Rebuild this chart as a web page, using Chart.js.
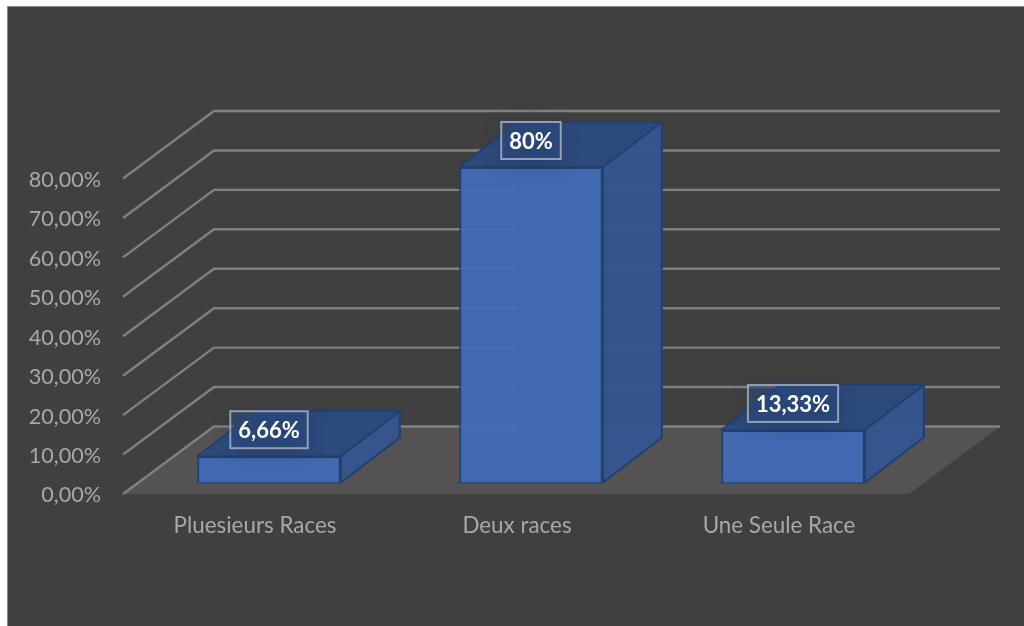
<!DOCTYPE html>
<html lang="fr">
<head>
    <meta charset="UTF-8">
    <title>Races</title>
    <style>
        html, body {
            margin: 0;
            padding: 0;
            background-color: #ffffff;
            overflow: hidden;
        }

        #panel {
            position: absolute;
            left: 7px;
            top: 6px;
            width: 1017px;
            height: 620px;
            box-sizing: border-box;
            background-color: #404040;
            border-left: 1px solid #8a8a8a;
            border-top: 1px solid #8a8a8a;
        }

        #chart {
            position: absolute;
            left: 0;
            top: 0;
        }
    </style>
    <script src="https://cdn.jsdelivr.net/npm/chart.js"></script>
</head>
<body>
    <div id="panel"></div>
    <canvas id="chart" width="1024" height="626"></canvas>

    <script>
        const categories = ["Pluesieurs Races", "Deux races", "Une Seule Race"];
        const values = [6.66, 80, 13.33];
        const valueLabels = ["6,66%", "80%", "13,33%"];
        const yTickLabels = ["0,00%", "10,00%", "20,00%", "30,00%", "40,00%", "50,00%", "60,00%", "70,00%", "80,00%"];

        // the bars stand on a plane inside the box, these are the offsets of the other planes
        const toFront = { x: -15, y: 11.5 };
        const toBarBack = { x: 59, y: -45 };
        const toWall = { x: 76, y: -56 };

        const font = "Lato, Carlito, sans-serif";

        function poly(ctx, pts, fill, stroke) {
            ctx.beginPath();
            pts.forEach((p, i) => i ? ctx.lineTo(p[0], p[1]) : ctx.moveTo(p[0], p[1]));
            ctx.closePath();
            if (fill) {
                ctx.fillStyle = fill;
                ctx.fill();
            }
            if (stroke) {
                ctx.strokeStyle = stroke;
                ctx.lineWidth = 2;
                ctx.lineJoin = "round";
                ctx.stroke();
            }
        }

        // floor and walls, then the hidden + side + top faces of each bar
        const box3d = {
            id: "box3d",
            beforeDatasetsDraw(chart) {
                const ctx = chart.ctx;
                const y = chart.scales.y;
                const area = chart.chartArea;
                const y0 = y.getPixelForValue(0);

                ctx.save();
                poly(ctx, [
                    [area.left + toFront.x, y0 + toFront.y],
                    [area.right + toFront.x, y0 + toFront.y],
                    [area.right + toWall.x, y0 + toWall.y],
                    [area.left + toWall.x, y0 + toWall.y]
                ], "#545252");

                ctx.strokeStyle = "#808080";
                ctx.lineWidth = 2.4;
                y.ticks.forEach(t => {
                    const py = y.getPixelForValue(t.value);
                    ctx.beginPath();
                    ctx.moveTo(area.left + toFront.x, py + toFront.y);
                    ctx.lineTo(area.left + toWall.x, py + toWall.y);
                    ctx.lineTo(area.right + toWall.x, py + toWall.y);
                    ctx.stroke();
                });

                chart.getDatasetMeta(0).data.forEach(bar => {
                    const l = bar.x - bar.width / 2;
                    const r = bar.x + bar.width / 2;
                    const t = bar.y;
                    const b = bar.base;
                    const dx = toBarBack.x;
                    const dy = toBarBack.y;
                    // back faces, seen through the front
                    poly(ctx, [[l + dx, t + dy], [r + dx, t + dy], [r + dx, b + dy], [l + dx, b + dy]], "rgba(43,74,128,0.55)", "rgba(40,70,125,0.8)");
                    poly(ctx, [[l, b], [r, b], [r + dx, b + dy], [l + dx, b + dy]], "rgba(43,74,128,0.6)", "rgba(40,70,125,0.8)");
                    // side
                    poly(ctx, [[r, t], [r + dx, t + dy], [r + dx, b + dy], [r, b]], "rgba(53,86,143,0.92)", "#24406f");
                    // top
                    poly(ctx, [[l, t], [r, t], [r + dx, t + dy], [l + dx, t + dy]], "rgba(44,74,125,0.96)", "#24406f");
                });
                ctx.restore();
            },
            afterDatasetsDraw(chart) {
                const ctx = chart.ctx;
                ctx.save();
                ctx.font = "bold 22px " + font;
                ctx.textAlign = "center";
                ctx.textBaseline = "middle";
                chart.getDatasetMeta(0).data.forEach((bar, i) => {
                    const w = ctx.measureText(valueLabels[i]).width + 16;
                    const h = 37;
                    const cx = bar.x;
                    const cy = bar.y - 26.5;
                    ctx.save();
                    ctx.shadowColor = "rgba(25,45,85,0.55)";
                    ctx.shadowBlur = 18;
                    ctx.shadowOffsetY = 5;
                    ctx.fillStyle = "rgba(44,74,125,0.55)";
                    ctx.fillRect(cx - w / 2, cy - h / 2, w, h);
                    ctx.restore();
                    ctx.strokeStyle = "rgba(190,198,212,0.7)";
                    ctx.lineWidth = 2;
                    ctx.strokeRect(cx - w / 2, cy - h / 2, w, h);
                    ctx.fillStyle = "#ffffff";
                    ctx.fillText(valueLabels[i], cx, cy + 1);
                });
                ctx.restore();
            }
        };

        new Chart(document.getElementById("chart"), {
            type: "bar",
            data: {
                labels: categories,
                datasets: [{
                    data: values,
                    backgroundColor: "rgba(66,108,184,0.92)",
                    borderColor: "#24406f",
                    borderWidth: 2,
                    categoryPercentage: 1,
                    barPercentage: 0.548
                }]
            },
            options: {
                responsive: false,
                animation: false,
                layout: { padding: { top: 167, right: 100, left: 0, bottom: 0 } },
                plugins: {
                    legend: { display: false },
                    tooltip: { enabled: false }
                },
                scales: {
                    x: {
                        border: { display: false },
                        grid: { display: false, drawTicks: false },
                        afterFit(scale) { scale.height = 143.5; },
                        ticks: {
                            color: "#a8a8a8",
                            font: { family: font, size: 22.4 },
                            labelOffset: -14,
                            padding: 30,
                            maxRotation: 0
                        }
                    },
                    y: {
                        min: 0,
                        max: 80,
                        border: { display: false },
                        grid: { display: false, drawTicks: false },
                        afterFit(scale) { scale.width = 138; },
                        ticks: {
                            stepSize: 10,
                            color: "#a8a8a8",
                            font: { family: font, size: 21.6 },
                            labelOffset: 13,
                            padding: 37,
                            callback: (v, i) => yTickLabels[i]
                        }
                    }
                }
            },
            plugins: [box3d]
        });
    </script>
</body>
</html>
